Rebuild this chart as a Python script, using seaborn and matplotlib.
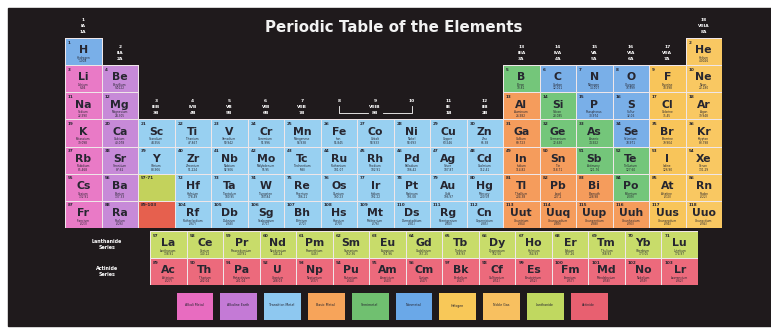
import numpy as np
import matplotlib
matplotlib.use("Agg")
import matplotlib.pyplot as plt
from matplotlib.colors import ListedColormap, to_rgba
from matplotlib.patches import Rectangle
import seaborn as sns

# element data, one string per period
symbols = (
    "H He "
    "Li Be B C N O F Ne "
    "Na Mg Al Si P S Cl Ar "
    "K Ca Sc Ti V Cr Mn Fe Co Ni Cu Zn Ga Ge As Se Br Kr "
    "Rb Sr Y Zr Nb Mo Tc Ru Rh Pd Ag Cd In Sn Sb Te I Xe "
    "Cs Ba La Ce Pr Nd Pm Sm Eu Gd Tb Dy Ho Er Tm Yb Lu Hf Ta W Re Os Ir Pt Au Hg Tl Pb Bi Po At Rn "
    "Fr Ra Ac Th Pa U Np Pu Am Cm Bk Cf Es Fm Md No Lr Rf Db Sg Bh Hs Mt Ds Rg Cn Uut Uuq Uup Uuh Uus Uuo"
).split()

names = (
    "Hydrogen Helium "
    "Lithium Beryllium Boron Carbon Nitrogen Oxygen Fluorine Neon "
    "Sodium Magnesium Aluminum Silicon Phosphorus Sulfur Chlorine Argon "
    "Potassium Calcium Scandium Titanium Vanadium Chromium Manganese Iron Cobalt Nickel Copper Zinc "
    "Gallium Germanium Arsenic Selenium Bromine Krypton "
    "Rubidium Strontium Yttrium Zirconium Niobium Molybdenum Technetium Ruthenium Rhodium Palladium "
    "Silver Cadmium Indium Tin Antimony Tellurium Iodine Xenon "
    "Cesium Barium Lanthanum Cerium Praseodymium Neodymium Promethium Samarium Europium Gadolinium "
    "Terbium Dysprosium Holmium Erbium Thulium Ytterbium Lutetium Hafnium Tantalum Tungsten Rhenium "
    "Osmium Iridium Platinum Gold Mercury Thallium Lead Bismuth Polonium Astatine Radon "
    "Francium Radium Actinium Thorium Protactinium Uranium Neptunium Plutonium Americium Curium "
    "Berkelium Californium Einsteinium Fermium Mendelevium Nobelium Lawrencium Rutherfordium Dubnium "
    "Seaborgium Bohrium Hassium Meitnerium Darmstadtium Roentgenium Copernicium Ununtrium Ununquadium "
    "Ununpentium Ununhexium Ununseptium Ununoctium"
).split()

masses = (
    "1.008 4.0026 "
    "6.94 9.0122 10.81 12.011 14.007 15.999 18.998 20.180 "
    "22.990 24.305 26.982 28.085 30.974 32.06 35.45 39.948 "
    "39.098 40.078 44.956 47.867 50.942 51.996 54.938 55.845 58.933 58.693 63.546 65.38 "
    "69.723 72.630 74.922 78.971 79.904 83.798 "
    "85.468 87.62 88.906 91.224 92.906 95.95 (98) 101.07 102.91 106.42 107.87 112.41 "
    "114.82 118.71 121.76 127.60 126.90 131.29 "
    "132.91 137.33 138.91 140.12 140.91 144.24 (145) 150.36 151.96 157.25 158.93 162.50 164.93 "
    "167.26 168.93 173.05 174.97 178.49 180.95 183.84 186.21 190.23 192.22 195.08 196.97 200.59 "
    "204.38 207.2 208.98 (209) (210) (222) "
    "(223) (226) (227) 232.04 231.04 238.03 (237) (244) (243) (247) (247) (251) (252) (257) (258) "
    "(259) (262) (267) (268) (271) (272) (270) (276) (281) (280) (285) (284) (289) (288) (293) (294) (294)"
).split()

alkali = ["Li", "Na", "K", "Rb", "Cs", "Fr"]
alkaline = ["Be", "Mg", "Ca", "Sr", "Ba", "Ra"]
transition = ["Sc", "Ti", "V", "Cr", "Mn", "Fe", "Co", "Ni", "Cu", "Zn",
              "Y", "Zr", "Nb", "Mo", "Tc", "Ru", "Rh", "Pd", "Ag", "Cd",
              "Hf", "Ta", "W", "Re", "Os", "Ir", "Pt", "Au", "Hg",
              "Rf", "Db", "Sg", "Bh", "Hs", "Mt", "Ds", "Rg", "Cn"]
basic = ["Al", "Ga", "In", "Sn", "Tl", "Pb", "Bi", "Uut", "Uuq", "Uup", "Uuh"]
semimetal = ["B", "Si", "Ge", "As", "Sb", "Te", "Po"]
nonmetal = ["H", "C", "N", "O", "P", "S", "Se"]
halogen = ["F", "Cl", "Br", "I", "At", "Uus"]
noble = ["He", "Ne", "Ar", "Kr", "Xe", "Rn", "Uuo"]
lanthanide = symbols[56:71]
actinide = symbols[88:103]

categories = ["Alkali Metal", "Alkaline Earth", "Transition Metal", "Basic Metal", "Semimetal",
              "Nonmetal", "Halogen", "Noble Gas", "Lanthanide", "Actinide"]
category_members = [alkali, alkaline, transition, basic, semimetal,
                    nonmetal, halogen, noble, lanthanide, actinide]
cell_colors = ["#e97ac6", "#c78ad8", "#98d0f1", "#f59c5c", "#74c67a",
               "#79afe8", "#f8c55a", "#f9c862", "#c8dc6a", "#ec6a7c"]
key_colors = ["#e86cc0", "#c47ad6", "#8ec8f0", "#f7a45a", "#70c070",
              "#6aa8e8", "#f8c858", "#f8c060", "#c0d860", "#e86070"]
placeholder_labels = ["57-71", "89-103"]
placeholder_colors = ["#c3d25c", "#e6604e"]

group_numbers = [str(g) for g in range(1, 19)]
group_roman = ["IA", "IIA", "IIIB", "IVB", "VB", "VIB", "VIIB", "VIIIB", "VIIIB", "VIIIB",
               "IB", "IIB", "IIIA", "IVA", "VA", "VIA", "VIIA", "VIIIA"]
group_cas = ["1A", "2A", "3B", "4B", "5B", "6B", "7B", "8B", "8B", "8B",
             "1B", "2B", "3A", "4A", "5A", "6A", "7A", "8A"]
series_labels = ["Lanthanide\nSeries", "Actinide\nSeries"]
title = "Periodic Table of the Elements"

bg = "#1f1a1c"
ink = "#262630"
sep = "#efe6e8"
W, H = 771, 329


def position(z):
    # (table, row, col) in the standard 18-column layout
    if 57 <= z <= 71:
        return "f", 0, z - 57
    if 89 <= z <= 103:
        return "f", 1, z - 89
    starts = [1, 3, 11, 19, 37, 55, 87]
    r = max(i for i, s in enumerate(starts) if s <= z)
    k = z - starts[r]
    if r == 0:
        return "main", 0, 0 if k == 0 else 17
    if r in (1, 2):
        return "main", r, k if k < 2 else k + 10
    if r in (3, 4):
        return "main", r, k
    if k < 2:
        return "main", r, k
    return "main", r, k - 14


def px(x0, y0, x1, y1):
    return [x0 / W, 1 - y1 / H, (x1 - x0) / W, (y1 - y0) / H]


def hide_empty_edges(ax, grid):
    # the mesh draws edges for masked cells too, so blank them
    mesh = ax.collections[0]
    ec = np.tile(to_rgba(sep), (grid.size, 1))
    ec[np.isnan(grid).ravel()] = (0, 0, 0, 0)
    mesh.set_edgecolor(ec)


cat_of = {s: i for i, members in enumerate(category_members) for s in members}

main = np.full((7, 18), np.nan)
fblock = np.full((2, 15), np.nan)
cells = []
for z in range(1, len(symbols) + 1):
    table, r, c = position(z)
    grid = main if table == "main" else fblock
    grid[r, c] = cat_of[symbols[z - 1]]
    cells.append((table, r, c, z))
main[5, 2] = 10
main[6, 2] = 11

cmap = ListedColormap(cell_colors + placeholder_colors)

fig = plt.figure(figsize=(W / 100, H / 100), dpi=100, facecolor="white")
fig.add_artist(Rectangle((8 / W, (H - 326) / H), 1 - 8 / W, (326 - 8) / H,
                         transform=fig.transFigure, color=bg, zorder=-1))

ax_main = fig.add_axes(px(65, 38, 722, 228))
ax_f = fig.add_axes(px(150, 231, 698, 285))
ax_key = fig.add_axes(px(172.5, 288.5, 610.5, 322.5))

sns.heatmap(main, cmap=cmap, vmin=-0.5, vmax=11.5, cbar=False, linewidths=0.5,
            linecolor=sep, xticklabels=False, yticklabels=False, ax=ax_main)
sns.heatmap(fblock, cmap=cmap, vmin=-0.5, vmax=11.5, cbar=False, linewidths=0.5,
            linecolor=sep, xticklabels=False, yticklabels=False, ax=ax_f)
sns.heatmap(np.arange(len(categories)).reshape(1, -1), cmap=ListedColormap(key_colors),
            vmin=-0.5, vmax=len(categories) - 0.5, cbar=False, linewidths=5,
            linecolor=bg, xticklabels=False, yticklabels=False, ax=ax_key)
hide_empty_edges(ax_main, main)
for ax in (ax_main, ax_f, ax_key):
    ax.set_facecolor("none")

# cell texts
for table, r, c, z in cells:
    ax = ax_main if table == "main" else ax_f
    ax.text(c + 0.08, r + 0.17, str(z), fontsize=3, fontweight="bold", color=ink,
            ha="left", va="center")
    ax.text(c + 0.5, r + 0.45, symbols[z - 1], fontsize=7.8, fontweight="bold",
            color=ink, ha="center", va="center")
    ax.text(c + 0.5, r + 0.73, names[z - 1], fontsize=2.1, color=ink, ha="center", va="center")
    ax.text(c + 0.5, r + 0.86, masses[z - 1], fontsize=2.1, color=ink, ha="center", va="center")

for i, lab in enumerate(placeholder_labels):
    ax_main.text(2 + 0.08, 5 + i + 0.17, lab, fontsize=3, fontweight="bold", color=ink,
                 ha="left", va="center")

# group headers above the first cell of each column
first_row = [0, 1, 3, 3, 3, 3, 3, 3, 3, 3, 3, 3, 1, 1, 1, 1, 1, 0]
for g in range(18):
    top = first_row[g]
    lines = [group_numbers[g], group_roman[g], group_cas[g]]
    if g in (7, 9):
        lines = [group_numbers[g]]
    for j, t in enumerate(lines):
        ax_main.text(g + 0.5, top - 0.68 + 0.23 * j, t, fontsize=3.2, fontweight="bold",
                     color="white", ha="center", va="center", clip_on=False)
for xs in ([7.5, 7.5, 8.3], [8.7, 9.5, 9.5]):
    ys = [2.5, 2.76, 2.76] if xs[0] == 7.5 else [2.76, 2.76, 2.5]
    ax_main.plot(xs, ys, color="white", lw=0.6, clip_on=False)

for i, lab in enumerate(series_labels):
    ax_f.text(-1.18, i + 0.5, lab, fontsize=3.4, fontweight="bold", color="white",
              ha="center", va="center", linespacing=1.4, clip_on=False)

for i, lab in enumerate(categories):
    ax_key.text(i + 0.5, 0.5, lab, fontsize=2.3, color=ink, ha="center", va="center")

fig.text(394 / W, 1 - 28 / H, title, color="#f2f2f2", fontsize=10.8, fontweight="bold",
         ha="center", va="center")

fig.savefig("out.png", dpi=100, facecolor="white")
